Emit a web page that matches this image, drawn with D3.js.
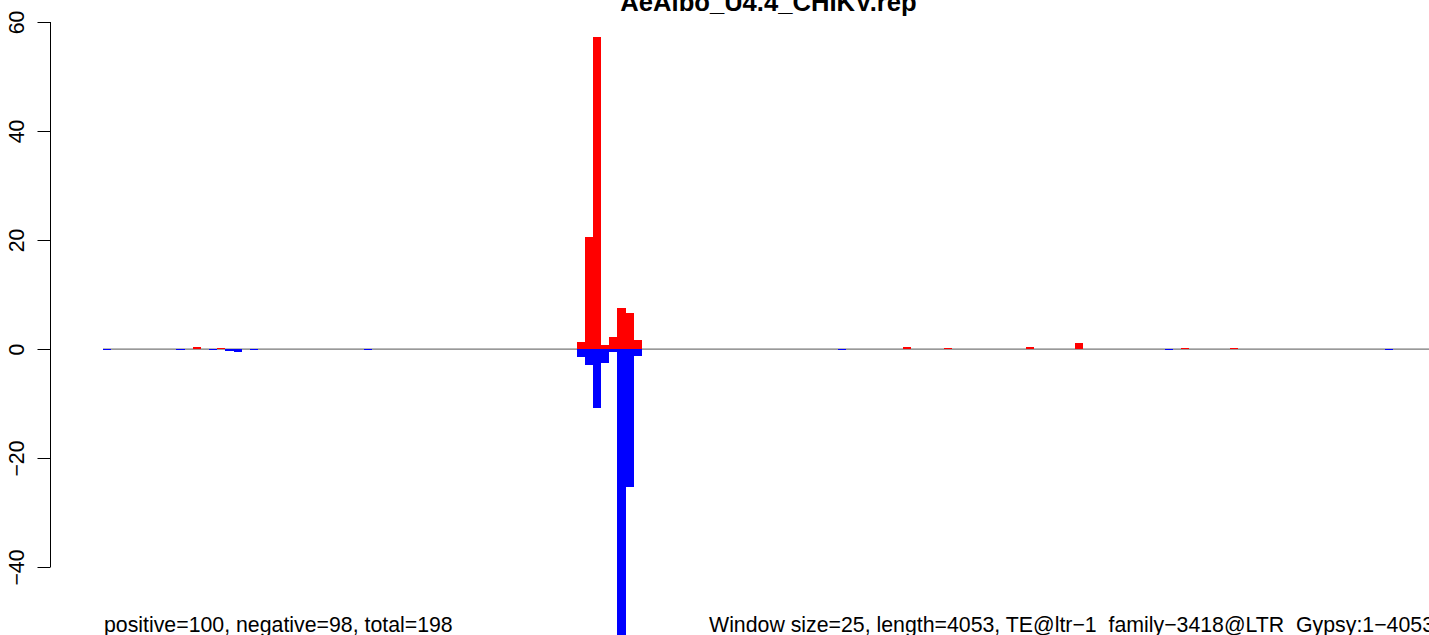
<!DOCTYPE html>
<html>
<head>
<meta charset="utf-8">
<script src="https://cdn.jsdelivr.net/npm/d3@7"></script>
<style>
  html, body { margin: 0; padding: 0; background: #fff; overflow: hidden; }
  svg { display: block; }
  text { font-family: "Liberation Sans", Arial, Helvetica, sans-serif; fill: #000; }
</style>
</head>
<body>
<svg id="chart" width="1429" height="635"></svg>
<script>
// ---- data ----
const chartTitle = "AeAlbo_U4.4_CHIKV.rep";
const leftNote = "positive=100, negative=98, total=198";
const rightNote = "Window size=25, length=4053, TE@ltr\u22121_family\u22123418@LTR_Gypsy:1\u22124053";
const windowCount = 163;
const yTicks = [-40, -20, 0, 20, 40, 60];
const yTickLabels = ["\u221240", "\u221220", "0", "20", "40", "60"];
const posWindows = [11, 14, 58, 59, 60, 61, 62, 63, 64, 65, 98, 103, 113, 119, 132, 138];
const posValues  = [0.3, 0.15, 1.34, 20.6, 57.3, 0.79, 2.26, 7.58, 6.66, 1.7, 0.3, 0.15, 0.45, 1.1, 0.15, 0.15];
const negWindows = [0, 9, 13, 15, 16, 18, 32, 58, 59, 60, 61, 62, 63, 64, 65, 90, 130, 157];
const negValues  = [0.15, 0.15, 0.15, 0.3, 0.6, 0.15, 0.15, 1.41, 3.0, 10.9, 2.64, 0.62, 54, 25.3, 1.23, 0.15, 0.15, 0.15];

// ---- drawing ----
const svg = d3.select("#chart");
const fs = 21.3;
const x = d3.scaleLinear().domain([0, windowCount]).range([103, 1434]);
const y = d3.scaleLinear().domain([-40, 60]).range([567, 22]);

// baseline
svg.append("line")
  .attr("x1", x(0)).attr("x2", x(windowCount))
  .attr("y1", y(0) + 0.2).attr("y2", y(0) + 0.2)
  .attr("stroke", "#777").attr("stroke-width", 1.2);

const pos = posWindows.map((w, i) => ({ w, v: posValues[i] }));
const neg = negWindows.map((w, i) => ({ w, v: -negValues[i] }));

function drawBars(data, color) {
  svg.append("g").attr("shape-rendering", "crispEdges")
    .selectAll("rect").data(data).join("rect")
    .attr("x", d => x(d.w))
    .attr("width", d => x(d.w + 1) - x(d.w))
    .attr("y", d => Math.min(y(d.v), y(0)))
    .attr("height", d => Math.max(1, Math.abs(y(d.v) - y(0))))
    .attr("fill", color);
}
drawBars(pos, "#ff0000");
drawBars(neg, "#0000ff");

// y axis
const axisX = 50.5;
const yAxis = d3.axisLeft(y).tickValues(yTicks).tickSize(13).tickFormat((d, i) => yTickLabels[i]);
const ag = svg.append("g").attr("transform", `translate(${axisX},0)`).call(yAxis);
ag.select(".domain").attr("stroke", "#000").attr("stroke-width", 1)
  .attr("d", `M0,${y(-40)}V${y(60)}`);
ag.selectAll(".tick line").attr("stroke", "#000");
ag.selectAll(".tick text")
  .attr("x", null).attr("dy", null)
  .attr("font-size", fs)
  .attr("text-anchor", "middle")
  .attr("transform", `translate(${23.5 - axisX},0) rotate(-90)`)
  .attr("fill", "#000")
  .style("font-family", '"Liberation Sans", Arial, sans-serif');

// title
svg.append("text")
  .attr("x", (x(0) + x(windowCount)) / 2).attr("y", 11)
  .attr("text-anchor", "middle")
  .attr("font-size", 25.6).attr("font-weight", "bold")
  .text(chartTitle);

// bottom notes
svg.append("text").attr("x", 104).attr("y", 632)
  .attr("font-size", fs).text(leftNote);
svg.append("text").attr("x", 1434).attr("y", 632)
  .attr("text-anchor", "end")
  .attr("font-size", fs).text(rightNote);
</script>
</body>
</html>
